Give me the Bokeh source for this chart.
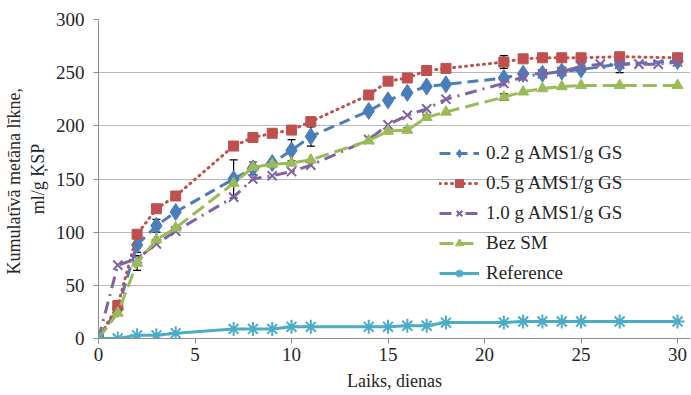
from bokeh.plotting import figure
from bokeh.models import ColumnDataSource, Range1d, Legend, LegendItem, Whisker, TeeHead, FixedTicker
from bokeh.embed import file_html
from bokeh.resources import INLINE

# Sampling days (purple series was measured on a few extra days)
days = [0, 1, 2, 3, 4, 7, 8, 9, 10, 11, 14, 15, 16, 17, 18, 21, 22, 23, 24, 25, 27, 30]
days_10 = [0, 1, 2, 3, 4, 7, 8, 9, 10, 11, 14, 15, 16, 17, 18, 21, 22, 23, 24, 25, 26, 27, 28, 29, 30]

# Cumulative methane yield, ml/g
ams_02 = [0, 28, 88, 106, 119, 150, 160, 165, 177, 190, 214, 224, 231, 237, 239, 245, 249, 249, 251, 253, 258, 261]
ams_05 = [0, 31, 98, 122, 134, 181, 189, 193, 196, 204, 229, 242, 245, 252, 254, 260, 263, 264, 264, 264, 265, 264]
ams_10 = [0, 69, 75, 89, 101, 133, 150, 153, 157, 163, 187, 201, 210, 216, 225, 240, 246, 249, 251, 256, 258, 258, 258, 258, 260]
bez_sm = [0, 24, 71, 93, 104, 146, 161, 164, 165, 168, 186, 195, 196, 208, 213, 227, 232, 235, 237, 238, 238, 238]
reference = [0, 0, 3, 3, 5, 9, 9, 9, 11, 11, 11, 11, 12, 12, 15, 15, 16, 16, 16, 16, 16, 16]

# Standard deviations (0 = no bar drawn)
err_02 = [0, 0, 7, 6, 0, 18, 6, 0, 10, 9, 0, 0, 0, 0, 0, 0, 0, 0, 0, 0, 8, 0]
err_05 = [0, 0, 0, 0, 0, 0, 0, 0, 0, 0, 0, 0, 0, 2, 0, 6, 0, 0, 0, 0, 0, 0]
err_bez = [0, 0, 7, 0, 0, 0, 0, 0, 0, 0, 0, 0, 2, 2, 0, 3, 0, 0, 0, 0, 0, 0]

series_names = ["0.2 g AMS1/g GS", "0.5 g AMS1/g GS", "1.0 g AMS1/g GS", "Bez SM", "Reference"]
x_ticks = [0, 5, 10, 15, 20, 25, 30]
y_ticks = [0, 50, 100, 150, 200, 250, 300]

FONT = "Liberation Serif"
TEXT = "#262626"

p = figure(width=691, height=395, output_backend="svg", toolbar_location=None,
           x_range=Range1d(0, 30.67), y_range=Range1d(0, 300),
           min_border_left=97, min_border_right=1, min_border_top=19, min_border_bottom=57)
p.outline_line_color = None
p.background_fill_color = "white"

p.xgrid.grid_line_color = None
p.ygrid.grid_line_color = "#b8b8b8"
p.ygrid.grid_line_width = 1

for ax in (p.xaxis[0], p.yaxis[0]):
    ax.axis_line_color = "#8c8c8c"
    ax.major_tick_line_color = "#8c8c8c"
    ax.minor_tick_line_color = None
    ax.major_tick_in = 0
    ax.major_tick_out = 5
    ax.major_label_text_font = FONT
    ax.major_label_text_font_size = "19px"
    ax.major_label_text_color = TEXT
    ax.axis_label_text_font = FONT
    ax.axis_label_text_font_size = "18px"
    ax.axis_label_text_font_style = "normal"
    ax.axis_label_text_color = TEXT

p.xaxis.ticker = FixedTicker(ticks=x_ticks)
p.yaxis.ticker = FixedTicker(ticks=y_ticks)
p.xaxis.axis_label = "Laiks, dienas"
p.xaxis.major_label_standoff = 4
p.xaxis.axis_label_standoff = 7
p.yaxis.axis_label = "Kumulatīvā metāna  līkne,\nml/g ĶSP"
p.yaxis.major_label_standoff = 9
p.yaxis.axis_label_standoff = 5

src02 = ColumnDataSource(dict(x=days, y=ams_02, lo=[v - e for v, e in zip(ams_02, err_02)], hi=[v + e for v, e in zip(ams_02, err_02)], e=err_02))
src05 = ColumnDataSource(dict(x=days, y=ams_05, lo=[v - e for v, e in zip(ams_05, err_05)], hi=[v + e for v, e in zip(ams_05, err_05)], e=err_05))
src10 = ColumnDataSource(dict(x=days_10, y=ams_10))
srcbez = ColumnDataSource(dict(x=days, y=bez_sm, lo=[v - e for v, e in zip(bez_sm, err_bez)], hi=[v + e for v, e in zip(bez_sm, err_bez)], e=err_bez))
srcref = ColumnDataSource(dict(x=days, y=reference))

items = []

# 0.2 g series
l1 = p.line("x", "y", source=src02, line_color="#4a7ebb", line_width=3, line_dash="11 6")
m1 = p.scatter("x", "y", source=src02, marker="diamond", size=17, fill_color="#4a7ebb", line_color="#4a7ebb")
items.append(LegendItem(label=series_names[0], renderers=[l1, m1]))

# 0.5 g series
l2 = p.line("x", "y", source=src05, line_color="#c0504d", line_width=3, line_dash="1 5", line_cap="round")
m2 = p.scatter("x", "y", source=src05, marker="square", size=10, fill_color="#c0504d", line_color="#c0504d")
items.append(LegendItem(label=series_names[1], renderers=[l2, m2]))

# 1.0 g series
l3 = p.line("x", "y", source=src10, line_color="#8064a2", line_width=3, line_dash="12 6 2 6")
m3 = p.scatter("x", "y", source=src10, marker="x", size=13, line_color="#8064a2", line_width=2)
items.append(LegendItem(label=series_names[2], renderers=[l3, m3]))

# Without additive
l4 = p.line("x", "y", source=srcbez, line_color="#9bbb59", line_width=3, line_dash="14 6")
m4 = p.scatter("x", "y", source=srcbez, marker="triangle", size=11, fill_color="#9bbb59", line_color="#9bbb59")
items.append(LegendItem(label=series_names[3], renderers=[l4, m4]))

# Reference
l5 = p.line("x", "y", source=srcref, line_color="#4bacc6", line_width=3)
m5 = p.scatter("x", "y", source=srcref, marker="asterisk", size=14, line_color="#4bacc6", line_width=2)
items.append(LegendItem(label=series_names[4], renderers=[l5, m5]))

# Error bars where a deviation was recorded
for src in (src02, src05, srcbez):
    d = src.data
    keep = [i for i, e in enumerate(d["e"]) if e > 0]
    wsrc = ColumnDataSource(dict(x=[d["x"][i] for i in keep],
                                 lo=[d["lo"][i] for i in keep],
                                 hi=[d["hi"][i] for i in keep]))
    w = Whisker(base="x", lower="lo", upper="hi", source=wsrc, line_color="black", line_width=1.2,
                upper_head=TeeHead(size=8, line_color="black", line_width=1.2),
                lower_head=TeeHead(size=8, line_color="black", line_width=1.2))
    p.add_layout(w)

legend = Legend(items=items, location=(341, 54), background_fill_alpha=0, border_line_alpha=0,
                label_text_font=FONT, label_text_font_size="19px", label_text_color=TEXT,
                glyph_width=40, glyph_height=20, label_height=20, spacing=8, padding=0, margin=0,
                label_standoff=7)
p.add_layout(legend)

open("out.html", "w").write(file_html(p, INLINE))
